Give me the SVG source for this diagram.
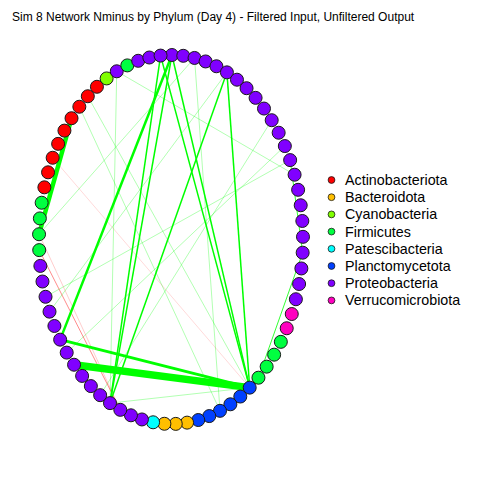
<svg xmlns="http://www.w3.org/2000/svg" width="480" height="480" viewBox="0 0 480 480">
<style>
text{font-family:"Liberation Sans",Arial,sans-serif;fill:#000}
.t{font-size:12px}
.lg{font-size:14.3px}
.n{stroke:#1a1a1a;stroke-width:1}
.ld{stroke:#1a1a1a;stroke-width:0.8}
.a{fill:#FF0000}.b{fill:#FFBF00}.c{fill:#80FF00}.f{fill:#00FF40}.p{fill:#00FFFF}.l{fill:#0040FF}.r{fill:#8000FF}.v{fill:#FF00BF}
line{fill:none;stroke-linecap:butt}
.g{stroke:#00FF00}
.gl{stroke:#00FF00;stroke-opacity:0.3;stroke-width:1}
.gm{stroke:#00FF00;stroke-opacity:0.8;stroke-width:1}
.rd{stroke:#FF0000}
</style>
<rect width="480" height="480" fill="#fff"/>
<text class="t" x="12" y="21">Sim 8 Network Nminus by Phylum (Day 4) - Filtered Input, Unfiltered Output</text>
<g id="edges">
<line class="gl" x1="39.05" y1="234.24" x2="194.52" y2="57.95"/>
<line class="gl" x1="116.76" y1="71.29" x2="294.59" y2="174.71"/>
<line class="gl" x1="66.71" y1="352.60" x2="284.83" y2="146.07"/>
<line class="gl" x1="100.16" y1="395.18" x2="271.70" y2="120.21"/>
<line class="gl" x1="194.52" y1="57.95" x2="220.00" y2="410.82"/>
<line class="gl" x1="87.81" y1="96.25" x2="249.69" y2="387.63"/>
<line class="gl" x1="79.34" y1="106.74" x2="220.00" y2="410.82"/>
<line class="gl" x1="116.76" y1="71.29" x2="110.00" y2="403.12"/>
<line class="gl" x1="110.00" y1="403.12" x2="249.69" y2="387.63"/>
<line class="gl" x1="45.53" y1="296.80" x2="290.15" y2="160.10"/>
<line class="gl" x1="49.52" y1="311.66" x2="226.91" y2="72.36"/>
<line class="rd" stroke-opacity="0.15" stroke-width="1" x1="52.66" y1="157.77" x2="249.69" y2="387.63"/>
<line class="rd" stroke-opacity="0.45" stroke-width="1" x1="39.22" y1="250.12" x2="120.29" y2="409.84"/>
<line class="rd" stroke-opacity="0.2" stroke-width="1" x1="39.05" y1="234.24" x2="120.29" y2="409.84"/>
<line class="gm" x1="290.15" y1="160.10" x2="302.66" y2="252.69"/>
<line class="gm" x1="302.66" y1="252.69" x2="258.45" y2="377.70"/>
<line class="g" stroke-width="1.5" x1="160.57" y1="55.58" x2="110.00" y2="403.12"/>
<line class="g" stroke-width="1.5" x1="171.92" y1="55.00" x2="110.00" y2="403.12"/>
<line class="g" stroke-width="1.5" x1="226.91" y1="72.36" x2="110.00" y2="403.12"/>
<line class="g" stroke-width="1.5" x1="226.91" y1="72.36" x2="249.69" y2="387.63"/>
<line class="g" stroke-width="1.5" x1="160.57" y1="55.58" x2="249.69" y2="387.63"/>
<line class="g" stroke-width="1.5" x1="171.92" y1="55.00" x2="249.69" y2="387.63"/>
<line class="g" stroke-width="2.5" x1="171.92" y1="55.00" x2="60.15" y2="339.66"/>
<line class="g" stroke-width="3" x1="60.15" y1="339.66" x2="249.69" y2="387.63"/>
<line class="g" stroke-width="4.5" x1="71.52" y1="118.22" x2="39.05" y2="234.24"/>
<line class="g" stroke-width="7.5" x1="74.06" y1="364.73" x2="249.69" y2="387.63"/>
</g>
<g id="nodes">
<g id="n1"><circle class="n r" cx="171.92" cy="55.00" r="6.5"/></g>
<g id="n2"><circle class="n r" cx="183.27" cy="55.80" r="6.5"/></g>
<g id="n3"><circle class="n r" cx="194.52" cy="57.95" r="6.5"/></g>
<g id="n4"><circle class="n r" cx="205.59" cy="61.45" r="6.5"/></g>
<g id="n5"><circle class="n r" cx="216.42" cy="66.27" r="6.5"/></g>
<g id="n6"><circle class="n r" cx="226.91" cy="72.36" r="6.5"/></g>
<g id="n7"><circle class="n r" cx="236.98" cy="79.70" r="6.5"/></g>
<g id="n8"><circle class="n r" cx="246.55" cy="88.21" r="6.5"/></g>
<g id="n9"><circle class="n r" cx="255.58" cy="97.85" r="6.5"/></g>
<g id="n10"><circle class="n r" cx="263.99" cy="108.55" r="6.5"/></g>
<g id="n11"><circle class="n r" cx="271.70" cy="120.21" r="6.5"/></g>
<g id="n12"><circle class="n r" cx="278.66" cy="132.74" r="6.5"/></g>
<g id="n13"><circle class="n r" cx="284.83" cy="146.07" r="6.5"/></g>
<g id="n14"><circle class="n r" cx="290.15" cy="160.10" r="6.5"/></g>
<g id="n15"><circle class="n r" cx="294.59" cy="174.71" r="6.5"/></g>
<g id="n16"><circle class="n r" cx="298.12" cy="189.80" r="6.5"/></g>
<g id="n17"><circle class="n r" cx="300.71" cy="205.26" r="6.5"/></g>
<g id="n18"><circle class="n r" cx="302.33" cy="220.97" r="6.5"/></g>
<g id="n19"><circle class="n r" cx="302.99" cy="236.82" r="6.5"/></g>
<g id="n20"><circle class="n r" cx="302.66" cy="252.69" r="6.5"/></g>
<g id="n21"><circle class="n r" cx="301.36" cy="268.46" r="6.5"/></g>
<g id="n22"><circle class="n r" cx="299.10" cy="284.01" r="6.5"/></g>
<g id="n23"><circle class="n r" cx="295.89" cy="299.24" r="6.5"/></g>
<g id="n24"><circle class="n v" cx="291.75" cy="314.02" r="6.5"/></g>
<g id="n25"><circle class="n v" cx="286.72" cy="328.26" r="6.5"/></g>
<g id="n26"><circle class="n f" cx="280.83" cy="341.84" r="6.5"/></g>
<g id="n27"><circle class="n f" cx="274.13" cy="354.67" r="6.5"/></g>
<g id="n28"><circle class="n f" cx="266.65" cy="366.65" r="6.5"/></g>
<g id="n29"><circle class="n f" cx="258.45" cy="377.70" r="6.5"/></g>
<g id="n30"><circle class="n l" cx="249.69" cy="387.63" r="6.5"/></g>
<g id="n31"><circle class="n l" cx="240.29" cy="396.54" r="6.5"/></g>
<g id="n32"><circle class="n l" cx="230.37" cy="404.29" r="6.5"/></g>
<g id="n33"><circle class="n l" cx="220.00" cy="410.82" r="6.5"/></g>
<g id="n34"><circle class="n l" cx="209.28" cy="416.07" r="6.5"/></g>
<g id="n35"><circle class="n l" cx="198.28" cy="420.01" r="6.5"/></g>
<g id="n36"><circle class="n b" cx="187.08" cy="422.63" r="6.5"/></g>
<g id="n37"><circle class="n b" cx="175.76" cy="423.88" r="6.5"/></g>
<g id="n38"><circle class="n b" cx="164.40" cy="423.77" r="6.5"/></g>
<g id="n39"><circle class="n p" cx="153.09" cy="422.29" r="6.5"/></g>
<g id="n40"><circle class="n r" cx="141.92" cy="419.46" r="6.5"/></g>
<g id="n41"><circle class="n r" cx="130.95" cy="415.30" r="6.5"/></g>
<g id="n42"><circle class="n r" cx="120.29" cy="409.84" r="6.5"/></g>
<g id="n43"><circle class="n r" cx="110.00" cy="403.12" r="6.5"/></g>
<g id="n44"><circle class="n r" cx="100.16" cy="395.18" r="6.5"/></g>
<g id="n45"><circle class="n r" cx="90.85" cy="386.09" r="6.5"/></g>
<g id="n46"><circle class="n r" cx="82.12" cy="375.92" r="6.5"/></g>
<g id="n47"><circle class="n r" cx="74.06" cy="364.73" r="6.5"/></g>
<g id="n48"><circle class="n r" cx="66.71" cy="352.60" r="6.5"/></g>
<g id="n49"><circle class="n r" cx="60.15" cy="339.66" r="6.5"/></g>
<g id="n50"><circle class="n r" cx="54.41" cy="325.99" r="6.5"/></g>
<g id="n51"><circle class="n r" cx="49.52" cy="311.66" r="6.5"/></g>
<g id="n52"><circle class="n r" cx="45.53" cy="296.80" r="6.5"/></g>
<g id="n53"><circle class="n r" cx="42.47" cy="281.51" r="6.5"/></g>
<g id="n54"><circle class="n r" cx="40.36" cy="265.91" r="6.5"/></g>
<g id="n55"><circle class="n f" cx="39.22" cy="250.12" r="6.5"/></g>
<g id="n56"><circle class="n f" cx="39.05" cy="234.24" r="6.5"/></g>
<g id="n57"><circle class="n f" cx="39.87" cy="218.41" r="6.5"/></g>
<g id="n58"><circle class="n f" cx="41.65" cy="202.73" r="6.5"/></g>
<g id="n59"><circle class="n a" cx="44.39" cy="187.33" r="6.5"/></g>
<g id="n60"><circle class="n a" cx="48.06" cy="172.31" r="6.5"/></g>
<g id="n61"><circle class="n a" cx="52.66" cy="157.77" r="6.5"/></g>
<g id="n62"><circle class="n a" cx="58.13" cy="143.86" r="6.5"/></g>
<g id="n63"><circle class="n a" cx="64.44" cy="130.61" r="6.5"/></g>
<g id="n64"><circle class="n a" cx="71.52" cy="118.22" r="6.5"/></g>
<g id="n65"><circle class="n a" cx="79.34" cy="106.74" r="6.5"/></g>
<g id="n66"><circle class="n a" cx="87.81" cy="96.25" r="6.5"/></g>
<g id="n67"><circle class="n a" cx="96.93" cy="86.78" r="6.5"/></g>
<g id="n68"><circle class="n c" cx="106.63" cy="78.43" r="6.5"/></g>
<g id="n69"><circle class="n r" cx="116.76" cy="71.29" r="6.5"/></g>
<g id="n70"><circle class="n f" cx="127.31" cy="65.40" r="6.5"/></g>
<g id="n71"><circle class="n r" cx="138.18" cy="60.79" r="6.5"/></g>
<g id="n72"><circle class="n r" cx="149.30" cy="57.51" r="6.5"/></g>
<g id="n73"><circle class="n r" cx="160.57" cy="55.58" r="6.5"/></g>
</g>
<g id="legend">
<circle class="ld a" cx="331.5" cy="180" r="3.4"/><text class="lg" x="345" y="185">Actinobacteriota</text>
<circle class="ld b" cx="331.5" cy="197.2" r="3.4"/><text class="lg" x="345" y="202.2">Bacteroidota</text>
<circle class="ld c" cx="331.5" cy="214.4" r="3.4"/><text class="lg" x="345" y="219.4">Cyanobacteria</text>
<circle class="ld f" cx="331.5" cy="231.6" r="3.4"/><text class="lg" x="345" y="236.6">Firmicutes</text>
<circle class="ld p" cx="331.5" cy="248.8" r="3.4"/><text class="lg" x="345" y="253.8">Patescibacteria</text>
<circle class="ld l" cx="331.5" cy="266" r="3.4"/><text class="lg" x="345" y="271">Planctomycetota</text>
<circle class="ld r" cx="331.5" cy="283.2" r="3.4"/><text class="lg" x="345" y="288.2">Proteobacteria</text>
<circle class="ld v" cx="331.5" cy="300.4" r="3.4"/><text class="lg" x="345" y="305.4">Verrucomicrobiota</text>
</g>
</svg>
